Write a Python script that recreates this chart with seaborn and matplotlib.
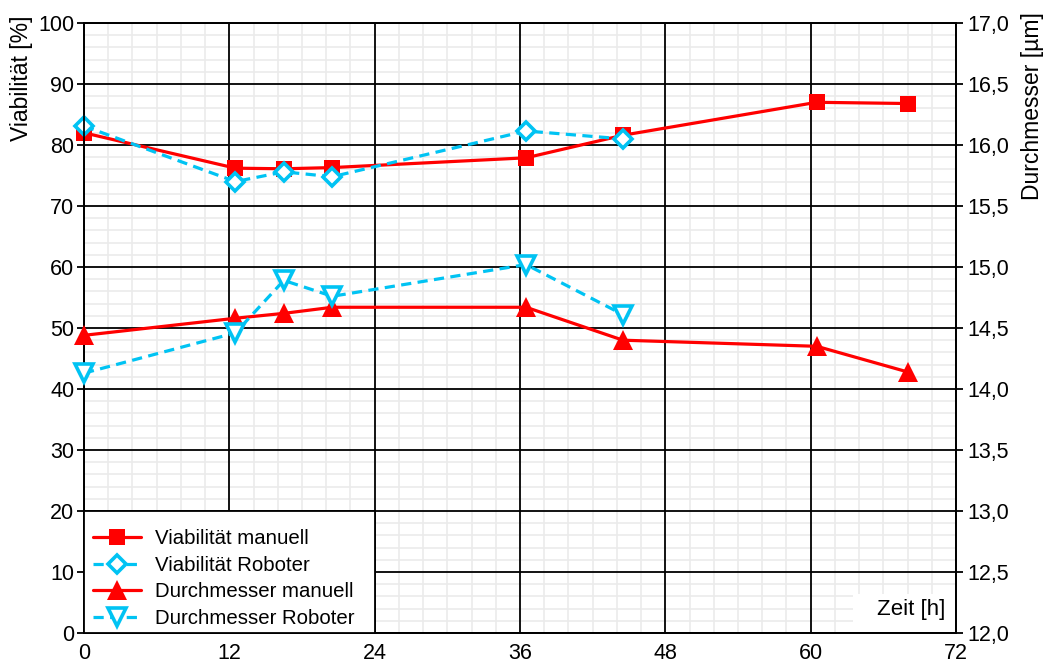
import matplotlib
matplotlib.use("Agg")
import matplotlib.pyplot as plt
from matplotlib.patches import Rectangle
from matplotlib.ticker import MultipleLocator, FuncFormatter
from matplotlib.lines import Line2D
import seaborn as sns
import pandas as pd

# Messzeitpunkte [h]
zeit = [0, 12.5, 16.5, 20.5, 36.5, 44.5, 60.5, 68]
zeit_roboter = [0, 12.5, 16.5, 20.5, 36.5, 44.5]

# Viabilität [%]
viab_manuell = [82.0, 76.2, 76.1, 76.3, 77.9, 81.6, 87.0, 86.8]
viab_roboter = [83.1, 74.0, 75.6, 74.8, 82.3, 81.0]

# Durchmesser [µm]
durch_manuell = [14.44, 14.58, 14.62, 14.67, 14.67, 14.40, 14.35, 14.14]
durch_roboter = [14.13, 14.46, 14.89, 14.76, 15.02, 14.61]

x_ticks = [0, 12, 24, 36, 48, 60, 72]

ROT = "#ff0000"
CYAN = "#00c3f3"
TICK_FS = 15.5
LABEL_FS = 16.5

sns.set_style("white")
plt.rcParams["font.family"] = ["Liberation Sans", "DejaVu Sans"]
for key in ("text.color", "axes.labelcolor", "xtick.color", "ytick.color"):
    plt.rcParams[key] = "black"

df_man = pd.DataFrame({"Zeit": zeit, "Viab": viab_manuell, "Durch": durch_manuell})
df_rob = pd.DataFrame({"Zeit": zeit_roboter, "Viab": viab_roboter, "Durch": durch_roboter})

fig = plt.figure(figsize=(10.45, 6.66), dpi=100)
ax = fig.add_axes([84 / 1045, 33 / 666, 872 / 1045, 610 / 666])
ax2 = ax.twinx()

lw = 2.3
DASH = (0, (3.2, 2.0))
styles = {
    "vm": dict(color=ROT, linewidth=lw, marker="s", markersize=11.8,
               markerfacecolor=ROT, markeredgecolor=ROT, markeredgewidth=0),
    "vr": dict(color=CYAN, linewidth=lw, linestyle=DASH, marker="D", markersize=9.5,
               markerfacecolor="white", markeredgecolor=CYAN, markeredgewidth=2.6),
    "dm": dict(color=ROT, linewidth=lw, marker="^", markersize=14.5,
               markerfacecolor=ROT, markeredgecolor=ROT, markeredgewidth=0),
    "dr": dict(color=CYAN, linewidth=lw, linestyle=DASH, marker="v", markersize=12.5,
               markerfacecolor="white", markeredgecolor=CYAN, markeredgewidth=2.6),
}

sns.lineplot(data=df_man, x="Zeit", y="Viab", ax=ax, zorder=3, clip_on=False, **styles["vm"])
sns.lineplot(data=df_rob, x="Zeit", y="Viab", ax=ax, zorder=4, clip_on=False, **styles["vr"])
sns.lineplot(data=df_man, x="Zeit", y="Durch", ax=ax2, zorder=3, clip_on=False, **styles["dm"])
sns.lineplot(data=df_rob, x="Zeit", y="Durch", ax=ax2, zorder=4, clip_on=False, **styles["dr"])

# Achsenbereiche
ax.set_xlim(0, 72)
ax.set_ylim(0, 100)
ax2.set_ylim(12.0, 17.0)

ax.set_xticks(x_ticks)
ax.xaxis.set_minor_locator(MultipleLocator(2))
ax.yaxis.set_major_locator(MultipleLocator(10))
ax.yaxis.set_minor_locator(MultipleLocator(2))
ax2.yaxis.set_major_locator(MultipleLocator(0.5))
ax2.yaxis.set_major_formatter(FuncFormatter(lambda v, p: f"{v:.1f}".replace(".", ",")))

# Gitter: feines Hilfsgitter unter dem schwarzen Hauptgitter
ax.set_axisbelow(True)
for xv in ax.xaxis.get_minorticklocs():
    ax.axvline(xv, color="#ebebeb", linewidth=1.2, zorder=0.2)
for yv in ax.yaxis.get_minorticklocs():
    ax.axhline(yv, color="#ebebeb", linewidth=1.2, zorder=0.2)
ax.grid(which="major", color="black", linewidth=1.3)

for a in (ax, ax2):
    for s in a.spines.values():
        s.set_color("black")
        s.set_linewidth(1.3)
ax.tick_params(axis="both", which="major", direction="out", length=5, width=1.3,
               color="black", labelcolor="black", labelsize=TICK_FS, pad=2)
ax.tick_params(axis="both", which="minor", length=0)
ax2.tick_params(axis="y", which="major", direction="out", length=5, width=1.3,
                color="black", labelcolor="black", labelsize=TICK_FS, pad=3)
ax2.tick_params(axis="y", which="minor", length=0)

ax.set_xlabel("")
ax.set_ylabel("Viabilität [%]", fontsize=LABEL_FS, loc="top", color="black")
ax.yaxis.set_label_coords(-0.0585, 1.013)
ax2.set_ylabel("Durchmesser [µm]", fontsize=LABEL_FS, loc="top", color="black")
ax2.yaxis.set_label_coords(1.0745, 1.018)

# Weiße Hintergründe für Legende und Achsentitel
ax2.add_patch(Rectangle((0, 0), 24, 20, transform=ax.transData, facecolor="white",
                        edgecolor="black", linewidth=1.3, zorder=5, clip_on=False))
ax2.add_patch(Rectangle((63.5, 0.15), 8.45, 6.2, transform=ax.transData,
                        facecolor="white", edgecolor="none", zorder=5))
ax2.text(71.1, 3.8, "Zeit [h]", transform=ax.transData, ha="right", va="center",
         fontsize=16, color="black", zorder=6)

for a in (ax, ax2):
    if a.get_legend() is not None:
        a.get_legend().remove()

handles = [Line2D([], [], **styles[k]) for k in ("vm", "vr", "dm", "dr")]
labels = ["Viabilität manuell", "Viabilität Roboter", "Durchmesser manuell",
          "Durchmesser Roboter"]
leg = ax2.legend(handles, labels, loc="lower left", bbox_to_anchor=(4 / 872, 0.0),
                 frameon=False, fontsize=14.7, handlelength=2.35, handletextpad=0.7,
                 labelspacing=0.37, borderpad=0.1, borderaxespad=0.15)
for t in leg.get_texts():
    t.set_color("black")
leg.set_zorder(7)

fig.savefig("out.png", dpi=100)
